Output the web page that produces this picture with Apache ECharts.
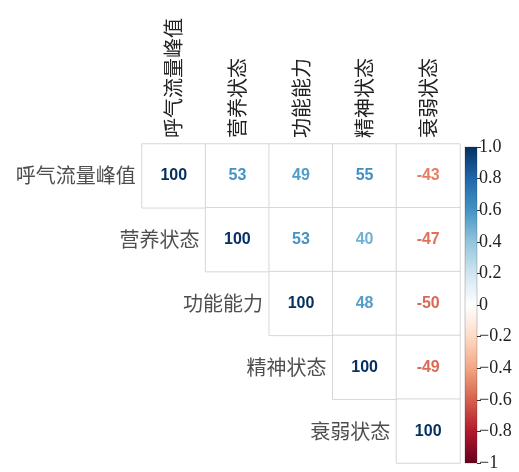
<!DOCTYPE html>
<html>
<head>
<meta charset="utf-8">
<script src="https://cdn.jsdelivr.net/npm/echarts@6/dist/echarts.min.js"></script>
<style>
  html, body { margin: 0; padding: 0; background: #fff; }
  #main { width: 519px; height: 472px; }
</style>
</head>
<body>
<div id="main"></div>
<script>
// 变量名
var names = ['呼气流量峰值', '营养状态', '功能能力', '精神状态', '衰弱状态'];
// 上三角相关系数(x100)，每行从对角线开始
var rowPeakFlow = [100, 53, 49, 55, -43];
var rowNutrition = [100, 53, 40, -47];
var rowFunction = [100, 48, -50];
var rowMental = [100, -49];
var rowFrailty = [100];
// 色条刻度
var barTickLabels = ['\u22121', '\u22120.8', '\u22120.6', '\u22120.4', '\u22120.2', '0', '0.2', '0.4', '0.6', '0.8', '1.0'];

var rows = [rowPeakFlow, rowNutrition, rowFunction, rowMental, rowFrailty];

// RdBu 色阶 (-1 -> 1)
var palette = ['#67001F', '#B2182B', '#D6604D', '#F4A582', '#FDDBC7', '#FFFFFF',
               '#D1E5F0', '#92C5DE', '#4393C3', '#2166AC', '#053061'];

function hex2rgb(h) {
    return [parseInt(h.substr(1, 2), 16), parseInt(h.substr(3, 2), 16), parseInt(h.substr(5, 2), 16)];
}
function valueColor(v) {
    var t = (v + 1) / 2 * (palette.length - 1);
    var i = Math.min(Math.floor(t), palette.length - 2);
    var f = t - i;
    var a = hex2rgb(palette[i]), b = hex2rgb(palette[i + 1]);
    var c = a.map(function (x, k) { return Math.round(x + (b[k] - x) * f); });
    return 'rgb(' + c.join(',') + ')';
}
// 文字颜色稍微加深一点
function textColor(v) {
    var s = v < 0 ? -1 : 1;
    return valueColor(s * Math.pow(Math.abs(v), 0.8));
}

var cells = [];
var diag = [];
for (var i = 0; i < rows.length; i++) {
    for (var j = 0; j < rows[i].length; j++) {
        var v = rows[i][j];
        cells.push({
            value: [i + j, i, v],
            label: { color: textColor(v / 100) }
        });
    }
    diag.push({ value: [i, i], name: names[i] });
}

var myChart = echarts.init(document.getElementById('main'));

var option = {
    backgroundColor: '#fff',
    animation: false,
    grid: [
        { left: 142, top: 144, width: 318, height: 319 },
        { left: 465, top: 147, width: 12, height: 320 }
    ],
    xAxis: [
        {
            gridIndex: 0,
            type: 'category',
            data: names,
            position: 'top',
            axisLine: { show: false },
            axisTick: { show: false },
            splitLine: { show: false },
            axisLabel: {
                rotate: -90,
                margin: 6,
                fontSize: 20,
                color: '#222',
                fontFamily: 'Noto Sans CJK SC'
            }
        },
        {
            gridIndex: 1,
            type: 'category',
            data: [''],
            show: false
        }
    ],
    yAxis: [
        {
            gridIndex: 0,
            type: 'category',
            data: names,
            inverse: true,
            axisLine: { show: false },
            axisTick: { show: false },
            axisLabel: { show: false },
            splitLine: { show: false }
        },
        {
            gridIndex: 1,
            type: 'value',
            min: -1,
            max: 1,
            interval: 0.2,
            position: 'right',
            axisLine: { show: false },
            splitLine: { show: false },
            axisTick: { show: true, length: 4, lineStyle: { color: '#333' } },
            axisLabel: {
                margin: 2,
                fontSize: 18,
                color: '#222',
                fontFamily: 'Liberation Serif',
                formatter: function (v) {
                    return barTickLabels[Math.round(v * 5) + 5];
                }
            }
        }
    ],
    series: [
        {
            type: 'heatmap',
            xAxisIndex: 0,
            yAxisIndex: 0,
            data: cells,
            silent: true,
            itemStyle: { color: '#fff', borderColor: '#d3d7db', borderWidth: 1 },
            label: {
                show: true,
                fontSize: 16,
                fontWeight: 'bold',
                fontFamily: 'Liberation Sans',
                formatter: function (p) { return p.value[2]; }
            }
        },
        {
            type: 'scatter',
            xAxisIndex: 0,
            yAxisIndex: 0,
            data: diag,
            silent: true,
            symbol: 'rect',
            symbolSize: [64, 64],
            itemStyle: { color: 'rgba(0,0,0,0)' },
            label: {
                show: true,
                position: 'left',
                distance: 6,
                fontSize: 20,
                color: '#222',
                fontFamily: 'Noto Sans CJK SC',
                formatter: function (p) { return p.name; }
            }
        },
        {
            type: 'custom',
            xAxisIndex: 1,
            yAxisIndex: 1,
            data: [[0, 1]],
            silent: true,
            renderItem: function (params, api) {
                var top = api.coord([0, 1])[1];
                var bottom = api.coord([0, -1])[1];
                var cs = params.coordSys;
                var stops = palette.map(function (c, k) {
                    return { offset: 1 - k / (palette.length - 1), color: c };
                }).reverse();
                return {
                    type: 'rect',
                    shape: { x: cs.x, y: top, width: cs.width, height: bottom - top },
                    style: {
                        fill: new echarts.graphic.LinearGradient(0, 0, 0, 1, stops),
                        stroke: 'rgba(40,40,40,0.5)',
                        lineWidth: 0.5
                    }
                };
            }
        }
    ]
};

myChart.setOption(option);
</script>
</body>
</html>
